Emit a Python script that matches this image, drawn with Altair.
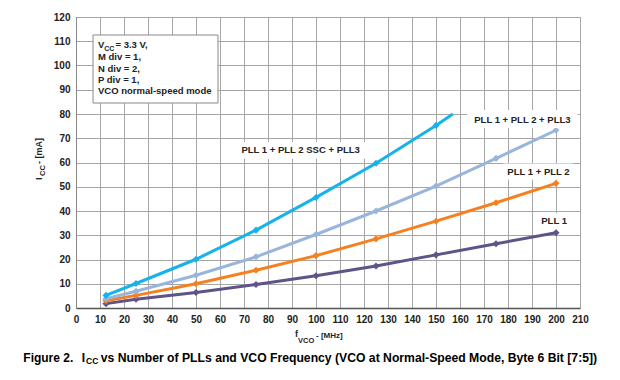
import altair as alt
import pandas as pd

# ---------------- data ----------------
freq = [12.5, 25, 50, 75, 100, 125, 150, 175, 200]
pll1 = [1.8, 3.6, 6.4, 9.7, 13.3, 17.3, 21.9, 26.5, 31.0]
pll12 = [3.0, 5.2, 10.0, 15.6, 21.6, 28.5, 35.8, 43.4, 51.4]
pll123 = [3.8, 6.9, 13.5, 21.1, 30.3, 40.0, 50.3, 61.7, 73.3]
ssc_freq = [12.5, 25, 50, 75, 100, 125, 150, 157]
ssc = [5.2, 10.1, 20.1, 32.1, 45.6, 59.7, 75.3, 80.0]
ssc_marker = [True, True, True, True, True, True, True, False]

series_names = ["PLL 1", "PLL 1 + PLL 2", "PLL 1 + PLL 2 + PLL3", "PLL 1 + PLL 2 SSC + PLL3"]
series_colors = ["#5f5387", "#f7801e", "#98b6dc", "#16b2ec"]

label_text = ["PLL 1 + PLL 2 SSC + PLL3", "PLL 1 + PLL 2 + PLL3", "PLL 1 + PLL 2", "PLL 1"]
label_x = [93.6, 186.0, 192.7, 199.2]
label_y = [65.2, 77.7, 56.0, 35.8]
label_x1 = [67.0, 163.0, 178.0, 192.5]
label_x2 = [120.4, 209.0, 207.0, 206.5]
label_y1 = [61.5, 74.2, 53.0, 32.5]
label_y2 = [68.5, 81.6, 59.6, 39.0]

x_ticks = list(range(0, 211, 10))
y_ticks = list(range(0, 121, 10))

rows = []
for name, xs, ys, mk in [
    (series_names[0], freq, pll1, [True] * len(freq)),
    (series_names[1], freq, pll12, [True] * len(freq)),
    (series_names[2], freq, pll123, [True] * len(freq)),
    (series_names[3], ssc_freq, ssc, ssc_marker),
]:
    for xv, yv, m in zip(xs, ys, mk):
        rows.append({"series": name, "f": xv, "v": yv, "marker": m})
df = pd.DataFrame(rows)

labels = pd.DataFrame({"t": label_text, "f": label_x, "v": label_y,
                       "fa": label_x1, "fb": label_x2, "va": label_y1, "vb": label_y2})

FONT = "Liberation Sans"
W, H = 504, 291

x_scale = alt.Scale(domain=[0, 210], nice=False, zero=True)
y_scale = alt.Scale(domain=[0, 120], nice=False, zero=True)

x_axis = alt.Axis(values=x_ticks, title=None, grid=True, gridColor="#a6a6a6", gridWidth=1,
                  ticks=False, domainColor="#555555", domainWidth=1.5,
                  labelFont=FONT, labelFontWeight="bold", labelFontSize=10, labelColor="#222222",
                  labelPadding=6, labelFlush=False, labelOverlap=False)
y_axis = alt.Axis(values=y_ticks, title=None, grid=True, gridColor="#a6a6a6", gridWidth=1,
                  ticks=False, domainColor="#8a8a8a", domainWidth=1,
                  labelFont=FONT, labelFontWeight="bold", labelFontSize=10, labelColor="#222222",
                  labelPadding=6, labelOverlap=False, labelFlush=False)

color = alt.Color("series:N", scale=alt.Scale(domain=series_names, range=series_colors), legend=None)

base = alt.Chart(df).encode(
    x=alt.X("f:Q", scale=x_scale, axis=x_axis),
    y=alt.Y("v:Q", scale=y_scale, axis=y_axis),
    color=color,
)
lines = base.mark_line(strokeWidth=3).encode(order="f:Q")
points = base.transform_filter("datum.marker").mark_point(shape="diamond", filled=True, size=50, opacity=1)

label_boxes = alt.Chart(labels).mark_rect(fill="white").encode(
    x=alt.X("fa:Q", scale=x_scale, axis=x_axis), x2="fb:Q",
    y=alt.Y("va:Q", scale=y_scale, axis=y_axis), y2="vb:Q",
)
label_texts = alt.Chart(labels).mark_text(font=FONT, fontWeight="bold", fontSize=9.5, color="#222222").encode(
    x=alt.X("f:Q", scale=x_scale, axis=x_axis), y=alt.Y("v:Q", scale=y_scale, axis=y_axis), text="t:N"
)


def txt(s, x, y, size=9.5, weight="bold", angle=0, color="#222222"):
    return alt.Chart(pd.DataFrame({"t": [s]})).mark_text(
        font=FONT, fontSize=size, fontWeight=weight, align="left", baseline="alphabetic",
        angle=angle, color=color
    ).encode(x=alt.value(x), y=alt.value(y), text="t:N")


# annotation box (plot pixel coords)
box = alt.Chart(pd.DataFrame({"a": [0]})).mark_rect(
    fill="white", stroke="#8a8a8a", strokeWidth=1
).encode(x=alt.value(17), x2=alt.value(142), y=alt.value(18), y2=alt.value(86))

ann = [
    txt("V", 22, 31.3),
    txt("CC", 28.3, 33.5, size=7),
    txt("= 3.3 V,", 39.5, 31.3),
    txt("M div = 1,", 22, 43),
    txt("N div = 2,", 22, 54.5),
    txt("P div = 1,", 22, 66),
    txt("VCO normal-speed mode", 22, 77.3),
]

# axis titles with subscripts
ytitle = [
    txt("I", -34, 163, size=9.5, angle=270),
    txt("CC", -31, 159, size=7.5, angle=270),
    txt("- [mA]", -34, 147, size=9, angle=270),
]
xtitle = [
    txt("f", 219, 320, size=9),
    txt("VCO", 222, 325.5, size=7.5),
    txt("- [MHz]", 240, 321, size=8),
]
caption = [
    txt("Figure 2.", -52.7, 344.7, size=12, color="#000000"),
    txt("I", 5.7, 344.7, size=12, color="#000000"),
    txt("CC", 10, 347, size=8.5, color="#000000"),
    txt("vs Number of PLLs and VCO Frequency (VCO at Normal-Speed Mode, Byte 6 Bit [7:5])",
        24.7, 344.7, size=12.2, color="#000000"),
]

chart = alt.layer(
    lines, points, label_boxes, label_texts, box, *ann, *ytitle, *xtitle, *caption
).properties(
    width=W, height=H,
    autosize=alt.AutoSizeParams(type="none"),
    padding={"left": 68, "top": 9, "right": 32, "bottom": 64},
).configure_view(stroke="#8a8a8a", strokeWidth=1).configure(background="white")

chart.save("out.html", embed_options={"renderer": "svg", "actions": False})
